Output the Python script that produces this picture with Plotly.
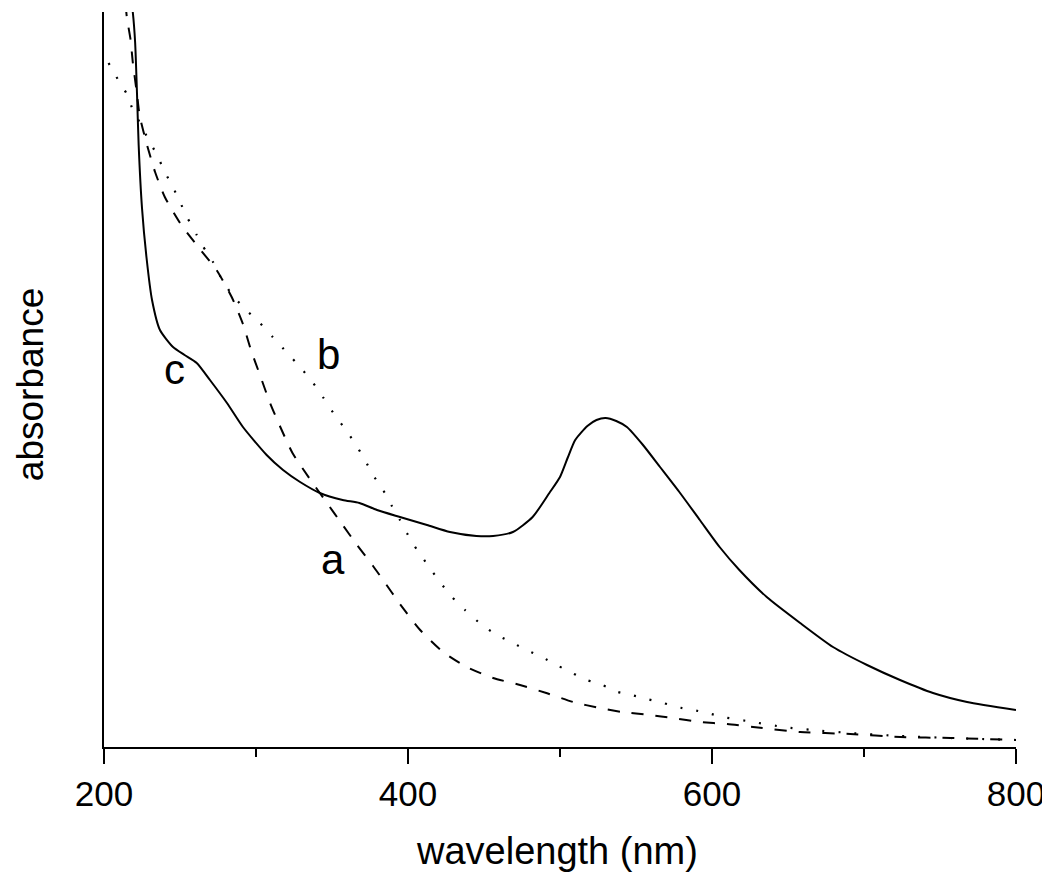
import plotly.graph_objects as go

# ---- data (wavelength in nm, absorbance in arbitrary units) ----
wl_a = [213, 215, 217.5, 219, 221.7, 223.5, 228.3, 233.6, 240, 250, 262.5, 274, 284, 291.4,
        296.7, 302.6, 309, 316, 324, 335, 346.7, 357, 366, 377, 383.6, 394.7, 408, 423,
        438.6, 456, 473.7, 491, 508.6, 526, 541, 559, 574, 592, 610, 627, 658, 691, 724,
        757, 800]
abs_a = [1.534, 1.460, 1.414, 1.368, 1.306, 1.262, 1.204, 1.150, 1.100, 1.048, 0.998, 0.954,
         0.900, 0.846, 0.794, 0.744, 0.690, 0.640, 0.588, 0.538, 0.488, 0.444, 0.406, 0.362,
         0.334, 0.286, 0.234, 0.190, 0.160, 0.138, 0.124, 0.108, 0.090, 0.078, 0.070, 0.064,
         0.058, 0.050, 0.046, 0.040, 0.030, 0.026, 0.020, 0.018, 0.014]

wl_b = [203, 209, 215, 219, 223.7, 229, 234.9, 240, 245, 250, 254.6, 261, 265, 271.7, 276,
        283, 291.4, 302.6, 311, 320, 329, 337.6, 344, 350.9, 358.6, 365, 371.7, 377, 383.6,
        389, 394.7, 400, 406, 413, 421, 429, 437.5, 448.7, 458.6, 469, 478, 488, 499, 508,
        517.6, 528, 538, 547, 557, 568, 577, 587.6, 597, 607, 627, 647, 666, 691, 724, 757, 800]
abs_b = [1.368, 1.336, 1.306, 1.274, 1.248, 1.216, 1.184, 1.150, 1.122, 1.090, 1.060, 1.024,
         1.002, 0.970, 0.944, 0.910, 0.880, 0.848, 0.820, 0.790, 0.760, 0.728, 0.700, 0.668,
         0.636, 0.608, 0.574, 0.544, 0.514, 0.484, 0.454, 0.424, 0.394, 0.364, 0.330, 0.300,
         0.274, 0.244, 0.224, 0.208, 0.194, 0.180, 0.162, 0.148, 0.134, 0.124, 0.110, 0.104,
         0.096, 0.088, 0.080, 0.074, 0.068, 0.060, 0.050, 0.040, 0.034, 0.028, 0.022, 0.018,
         0.014]

wl_c = [216, 219, 220.5, 221.7, 222.8, 225, 228, 231.6, 236.8, 245.4, 253, 261, 269.7, 280.9,
        291.4, 307, 317.8, 329, 342, 357, 368, 379.6, 394.7, 412.5, 427.6, 445, 456, 469,
        482, 493, 500, 505, 510, 518, 524, 530, 537, 544, 554.6, 565.8, 579, 592, 605, 618,
        636, 658, 679.6, 702, 723.7, 745.4, 767.8, 800]
abs_c = [1.534, 1.468, 1.408, 1.308, 1.204, 1.078, 0.978, 0.894, 0.834, 0.800, 0.784, 0.768,
         0.734, 0.688, 0.640, 0.584, 0.554, 0.530, 0.508, 0.494, 0.488, 0.474, 0.460,
         0.444, 0.430, 0.422, 0.422, 0.430, 0.460, 0.508, 0.540, 0.578, 0.614, 0.642, 0.654,
         0.658, 0.652, 0.640, 0.604, 0.560, 0.508, 0.454, 0.400, 0.354, 0.300, 0.248, 0.200,
         0.164, 0.134, 0.108, 0.090, 0.074]

x_ticks = [200, 400, 600, 800]

FONT = "Liberation Sans, Arial, sans-serif"

fig = go.Figure()
fig.add_trace(go.Scatter(x=wl_a, y=abs_a, mode="lines", name="a",
                         line=dict(color="black", width=2, dash="12px,12px",
                                   shape="spline", smoothing=0.6)))
fig.add_trace(go.Scatter(x=wl_b, y=abs_b, mode="lines", name="b",
                         line=dict(color="black", width=2.2, dash="2px,14px",
                                   shape="spline", smoothing=0.6)))
fig.add_trace(go.Scatter(x=wl_c, y=abs_c, mode="lines", name="c",
                         line=dict(color="black", width=2,
                                   shape="spline", smoothing=0.6)))

# page body has an 8px margin, so the figure is 8px smaller and margins are offset
fig.update_layout(
    width=1042, height=868,
    margin=dict(l=96, r=34, t=4, b=129),
    paper_bgcolor="white", plot_bgcolor="white",
    showlegend=False,
    font=dict(family=FONT, color="black", size=35),
    xaxis=dict(range=[200, 800], tickvals=x_ticks, ticktext=[str(v) for v in x_ticks],
               showline=True, linecolor="black", linewidth=2, mirror=False,
               ticks="outside", ticklen=15, tickwidth=2, tickcolor="black",
               showgrid=False, zeroline=False,
               tickfont=dict(family=FONT, size=35, color="black"),
               minor=dict(dtick=100, tick0=200, ticks="outside", ticklen=8,
                          tickwidth=2, tickcolor="black", showgrid=False)),
    yaxis=dict(range=[0, 1.47], showline=True, linecolor="black", linewidth=2,
               ticks="", showticklabels=False, showgrid=False, zeroline=False),
    annotations=[
        dict(text="wavelength (nm)", xref="paper", yref="paper", x=0.497, y=-0.142,
             showarrow=False, xanchor="center", yanchor="middle",
             font=dict(family=FONT, size=38, color="black")),
        dict(text="absorbance", xref="paper", yref="paper", x=-0.081, y=0.4925,
             showarrow=False, xanchor="center", yanchor="middle", textangle=-90,
             font=dict(family=FONT, size=37, color="black")),
        dict(text="c", x=246.7, y=0.755, showarrow=False, xanchor="center", yanchor="middle",
             font=dict(family=FONT, size=42, color="black")),
        dict(text="b", x=347.4, y=0.786, showarrow=False, xanchor="center", yanchor="middle",
             font=dict(family=FONT, size=42, color="black")),
        dict(text="a", x=350.7, y=0.375, showarrow=False, xanchor="center", yanchor="middle",
             font=dict(family=FONT, size=42, color="black")),
    ],
)

fig.write_html("out.html")
